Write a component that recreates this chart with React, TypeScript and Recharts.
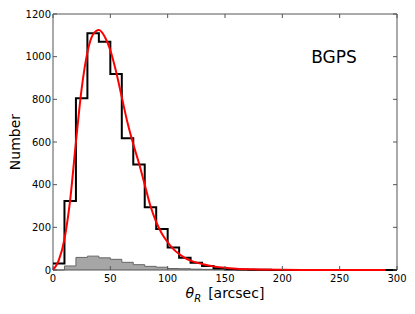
import React from "react";
import {
  ComposedChart,
  Line,
  Area,
  XAxis,
  YAxis,
  ReferenceArea,
  Customized,
} from "recharts";

// Bin left edges (width 10 arcsec)
const binEdges = [
  0, 10, 20, 30, 40, 50, 60, 70, 80, 90, 100, 110, 120, 130, 140, 150, 160, 170,
  180, 190, 200, 210, 220, 230, 240, 250, 260, 270, 280, 290, 300,
];
// All sources (black step histogram)
const allCounts = [
  31, 323, 805, 1110, 1070, 919, 617, 495, 294, 192, 106, 58, 34, 19, 8, 3, 2,
  1, 1, 0, 0, 0, 0, 0, 0, 0, 0, 0, 0, 0, 0,
];
// Sub-sample (grey filled histogram)
const subCounts = [
  0, 19, 59, 65, 57, 50, 36, 25, 17, 13, 7, 6, 4, 3, 2, 1, 1, 0, 0, 0, 0, 0, 0,
  0, 0, 0, 0, 0, 0, 0, 0,
];
// Fitted curve (red)
const fitX = [
  0, 5, 10, 15, 20, 25, 30, 35, 40, 45, 50, 55, 60, 65, 70, 75, 80, 85, 90, 95,
  100, 105, 110, 115, 120, 130, 140, 150, 160, 175, 200, 250, 290,
];
const fitY = [
  0, 45, 145, 330, 600, 850, 1020, 1105, 1125, 1095, 1030, 930, 810, 690, 590,
  500, 400, 300, 225, 170, 130, 98, 75, 57, 44, 28, 17, 10, 6, 3, 1, 0, 0,
];

const xTicks = [0, 50, 100, 150, 200, 250, 300];
const yTicks = [0, 200, 400, 600, 800, 1000, 1200];

const allData = binEdges.map((x, i) => ({ x, all: allCounts[i] }));
const subData = binEdges.map((x, i) => ({ x, sub: subCounts[i] }));
const fitData = fitX.map((x, i) => ({ x, fit: fitY[i] }));

const W = 415;
const H = 314;
const M = { top: 14, right: 18, bottom: 0, left: 0 };
const YW = 53;
const XH = 44;
const PLOT_W = W - M.left - M.right - YW;
const PLOT_H = H - M.top - M.bottom - XH;
const FONT = "DejaVu Sans";
const FRAME = "#555";

const XTick = (props: any) => {
  const { x, y, payload } = props;
  return (
    <g>
      <line x1={x} y1={y} x2={x} y2={y - 4} stroke={FRAME} strokeWidth={1} />
      <line
        x1={x}
        y1={y - PLOT_H}
        x2={x}
        y2={y - PLOT_H + 4}
        stroke={FRAME}
        strokeWidth={1}
      />
      <text
        x={x}
        y={y + 12}
        textAnchor="middle"
        fontFamily={FONT}
        fontSize={10}
        fill="#000"
      >
        {payload.value}
      </text>
    </g>
  );
};

const YTick = (props: any) => {
  const { x, y, payload } = props;
  return (
    <g>
      <line x1={x} y1={y} x2={x + 4} y2={y} stroke={FRAME} strokeWidth={1} />
      <line
        x1={x + PLOT_W}
        y1={y}
        x2={x + PLOT_W - 4}
        y2={y}
        stroke={FRAME}
        strokeWidth={1}
      />
      <text
        x={x - 2}
        y={y + 3.6}
        textAnchor="end"
        fontFamily={FONT}
        fontSize={10}
        fill="#000"
      >
        {payload.value}
      </text>
    </g>
  );
};

const Annotations = () => (
  <g>
    <text
      x={334}
      y={62.5}
      textAnchor="middle"
      fontFamily={FONT}
      fontSize={17}
      fill="#000"
    >
      BGPS
    </text>
    <text
      x={20}
      y={142}
      textAnchor="middle"
      fontFamily={FONT}
      fontSize={14}
      fill="#000"
      transform="rotate(-90 20 142)"
    >
      Number
    </text>
    <text
      x={225}
      y={298}
      textAnchor="middle"
      fontFamily={FONT}
      fontSize={14}
      fill="#000"
    >
      <tspan fontStyle="italic">θ</tspan>
      <tspan fontStyle="italic" fontSize={10} dy={4}>
        R
      </tspan>
      <tspan dy={-4} dx={7}>
        [arcsec]
      </tspan>
    </text>
  </g>
);

export default function App() {
  return (
    <div style={{ position: "absolute", left: 0, top: 0, background: "#fff" }}>
      <ComposedChart width={W} height={H} margin={M}>
        <XAxis
          dataKey="x"
          type="number"
          domain={[0, 300]}
          ticks={xTicks}
          allowDuplicatedCategory={false}
          axisLine={false}
          tickLine={false}
          tickSize={0}
          tickMargin={0}
          height={XH}
          tick={<XTick />}
          interval={0}
        />
        <YAxis
          type="number"
          domain={[0, 1200]}
          ticks={yTicks}
          axisLine={false}
          tickLine={false}
          tickSize={0}
          tickMargin={0}
          width={YW}
          tick={<YTick />}
          interval={0}
        />
        <Area
          data={subData}
          dataKey="sub"
          type="stepAfter"
          fill="#a6a6a6"
          fillOpacity={1}
          stroke="#666"
          strokeWidth={1}
          isAnimationActive={false}
          dot={false}
          activeDot={false}
        />
        <Line
          data={allData}
          dataKey="all"
          type="stepAfter"
          stroke="#000"
          strokeWidth={2}
          isAnimationActive={false}
          dot={false}
          activeDot={false}
        />
        <Line
          data={fitData}
          dataKey="fit"
          type="monotone"
          stroke="#ff0000"
          strokeWidth={2}
          isAnimationActive={false}
          dot={false}
          activeDot={false}
        />
        <ReferenceArea
          x1={0}
          x2={300}
          y1={0}
          y2={1200}
          fill="none"
          stroke={FRAME}
          strokeWidth={1}
          ifOverflow="visible"
        />
        <Customized component={Annotations} />
      </ComposedChart>
    </div>
  );
}
